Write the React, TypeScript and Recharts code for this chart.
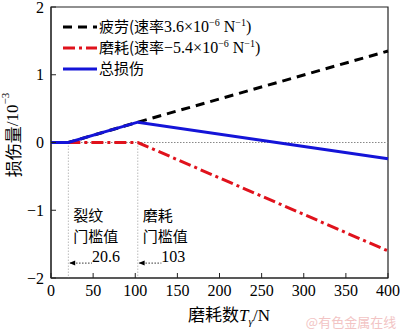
import { LineChart, Line, XAxis, YAxis, ReferenceLine, ReferenceDot, ReferenceArea } from 'recharts'

// 磨耗数 T_γ / N
const wearCounts = [0, 20.6, 103, 400]
// 损伤量 / 10^-3
const fatigueDamage = [0, 0, 0.3, 1.35]
const wearDamage = [null, 0, 0, -1.6]
const totalDamage = [0, 0, 0.3, -0.24]

const xTicks = [0, 50, 100, 150, 200, 250, 300, 350, 400]
const yTicks = [-2, -1, 0, 1, 2]

const thresholds = [20.6, 103]
const thresholdLabels = ['20.6', '103']
const thresholdNames = [
  ['裂纹', '门槛值'],
  ['磨耗', '门槛值'],
]

const FONT = '"Liberation Serif", "Times New Roman", "Noto Sans CJK SC", serif'
const CJK = '"Noto Sans CJK SC", sans-serif'

const data = wearCounts.map((x, i) => ({
  x,
  fatigue: fatigueDamage[i],
  wear: wearDamage[i],
  total: totalDamage[i],
}))

const series = [
  { key: 'fatigue', color: '#000000', dash: '9 6' },
  { key: 'wear', color: '#e0121c', dash: '12 4 3 4' },
  { key: 'total', color: '#1414d8', dash: undefined },
]

// eslint-disable-next-line @typescript-eslint/no-explicit-any
const ArrowHead = (props: any) => {
  const { cx, cy } = props
  return <path d={`M${cx},${cy} l6,-2.5 l0,5 z`} fill="#000" />
}

// eslint-disable-next-line @typescript-eslint/no-explicit-any
const valueText = (label: string) => (props: any) => (
  <text x={props.cx} y={props.cy} fontSize={16} fontFamily={FONT} fill="#000">
    {label}
  </text>
)

// eslint-disable-next-line @typescript-eslint/no-explicit-any
const nameText = (lines: string[]) => (props: any) => (
  <g>
    <text x={props.cx + 5} y={props.cy} fontSize={15} fontFamily={CJK} fill="#000">
      {lines[0]}
    </text>
    <text x={props.cx + 5} y={props.cy + 21} fontSize={15} fontFamily={CJK} fill="#000">
      {lines[1]}
    </text>
  </g>
)

function Legend() {
  const rows = [
    { s: series[0], label: ['疲劳(速率', '3.6×10', '−6', ' N', '−1', ')'] },
    { s: series[1], label: ['磨耗(速率', '−5.4×10', '−6', ' N', '−1', ')'] },
    { s: series[2], label: ['总损伤'] },
  ]
  return (
    <g>
      {rows.map((r, i) => {
        const y = 27 + i * 21
        return (
          <g key={r.s.key}>
            <line x1={63} x2={97} y1={y} y2={y} stroke={r.s.color} strokeWidth={3} strokeDasharray={r.s.dash} />
            <text x={99} y={y + 5} fontSize={16} fontFamily={FONT} fill="#000">
              <tspan fontFamily={CJK} fontSize={15}>{r.label[0]}</tspan>
              {r.label.length > 1 && (
                <>
                  <tspan>{r.label[1]}</tspan>
                  <tspan dy={-6} fontSize={10}>{r.label[2]}</tspan>
                  <tspan dy={6}>{r.label[3]}</tspan>
                  <tspan dy={-6} fontSize={10}>{r.label[4]}</tspan>
                  <tspan dy={6}>{r.label[5]}</tspan>
                </>
              )}
            </text>
          </g>
        )
      })}
    </g>
  )
}

export default function App() {
  return (
    <div style={{ position: 'absolute', left: 0, top: 0, width: 400, height: 330, background: '#fff', fontFamily: FONT }}>
      <LineChart width={400} height={330} data={data} margin={{ top: 7, right: 12, bottom: 0, left: 0 }}>
        <ReferenceArea x1={0} x2={400} y1={-2} y2={2} fill="none" stroke="#222" strokeWidth={1.2} ifOverflow="visible" />
        <XAxis
          dataKey="x"
          type="number"
          domain={[0, 400]}
          ticks={xTicks}
          height={52}
          tickSize={-5}
          tickMargin={12}
          stroke="#222"
          tick={{ fill: '#000', fontSize: 16, fontFamily: FONT }}
          interval={0}
        />
        <YAxis
          type="number"
          domain={[-2, 2]}
          ticks={yTicks}
          width={51}
          tickSize={-5}
          tickMargin={12}
          stroke="#222"
          tick={{ fill: '#000', fontSize: 16, fontFamily: FONT }}
          interval={0}
          tickFormatter={(v: number) => (v < 0 ? `−${Math.abs(v)}` : String(v))}
        />
        <ReferenceLine y={0} stroke="#888" strokeDasharray="1.5 1.5" />
        {thresholds.map((t) => (
          <ReferenceLine
            key={`v${t}`}
            segment={[
              { x: t, y: 0 },
              { x: t, y: -2 },
            ]}
            stroke="#bbb"
            strokeDasharray="1.5 1.5"
          />
        ))}
        {thresholds.map((t) => (
          <ReferenceLine
            key={`a${t}`}
            segment={[
              { x: t + 2, y: -1.78 },
              { x: t + 28, y: -1.78 },
            ]}
            stroke="#333"
            strokeDasharray="1.5 1.5"
          />
        ))}
        {thresholds.map((t) => (
          <ReferenceDot key={`h${t}`} x={t + 1} y={-1.78} r={3} shape={ArrowHead} />
        ))}
        {thresholds.map((t, i) => (
          <ReferenceDot key={`l${t}`} x={t + 28} y={-1.76} r={3} shape={valueText(thresholdLabels[i])} />
        ))}
        {thresholds.map((t, i) => (
          <ReferenceDot key={`n${t}`} x={t} y={-1.16} r={3} shape={nameText(thresholdNames[i])} />
        ))}
        {series.map((s) => (
          <Line
            key={s.key}
            type="linear"
            dataKey={s.key}
            stroke={s.color}
            strokeWidth={3}
            strokeDasharray={s.dash}
            dot={false}
            activeDot={false}
            connectNulls={false}
            isAnimationActive={false}
          />
        ))}
        <Legend />
        <text x={12} y={135} transform="rotate(-90 12 135)" textAnchor="middle" dominantBaseline="central" fontSize={17} fontFamily={FONT} fill="#000">
          <tspan fontFamily={CJK}>损伤量</tspan>
          <tspan>/10</tspan>
          <tspan dy={-7} fontSize={11}>−3</tspan>
        </text>
        <text x={229} y={321} textAnchor="middle" fontSize={17} fontFamily={FONT} fill="#000">
          <tspan fontFamily={CJK}>磨耗数</tspan>
          <tspan fontStyle="italic">T</tspan>
          <tspan dy={4} fontSize={11} fontStyle="italic">γ</tspan>
          <tspan dy={-4}>/N</tspan>
        </text>
        <text x={351} y={327} textAnchor="middle" fontSize={13} fontFamily={CJK} fill="#f2c4c4">
          @有色金属在线
        </text>
      </LineChart>
    </div>
  )
}
